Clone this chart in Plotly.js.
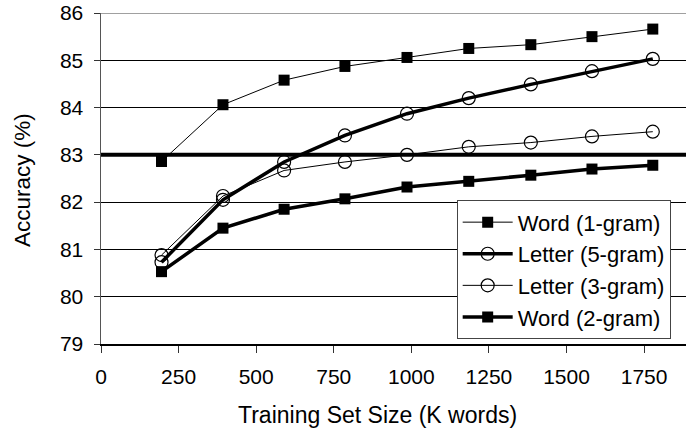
<!DOCTYPE html>
<html>
<head>
<meta charset="utf-8">
<script src="https://cdn.plot.ly/plotly-3.0.1.min.js"></script>
<style>html,body{margin:0;padding:0;background:#fff;}#chart{width:686px;height:430px;}</style>
</head>
<body>
<div id="chart"></div>
<script>
const trainingSize = [195, 393, 590, 786, 986, 1185, 1385, 1582, 1778];
const word1gram   = [82.86, 84.06, 84.58, 84.87, 85.06, 85.25, 85.33, 85.50, 85.66];
const letter5gram = [80.73, 82.05, 82.85, 83.41, 83.87, 84.20, 84.49, 84.77, 85.03];
const letter3gram = [80.88, 82.13, 82.67, 82.85, 83.00, 83.17, 83.26, 83.39, 83.49];
const word2gram   = [80.53, 81.45, 81.85, 82.07, 82.32, 82.44, 82.57, 82.70, 82.78];
const baselineAccuracy = 83;
const seriesNames = ['Word (1-gram)', 'Letter (5-gram)', 'Letter (3-gram)', 'Word (2-gram)'];
const xTicks = [0, 250, 500, 750, 1000, 1250, 1500, 1750];
const yTicks = [79, 80, 81, 82, 83, 84, 85, 86];
const xTitle = 'Training Set Size (K words)';
const yTitle = 'Accuracy (%)';

const FONT = 'Arial, "Liberation Sans", sans-serif';
const sq = {symbol: 'square', size: 11, color: '#000'};
const circ = {symbol: 'circle-open', size: 13, color: '#000', line: {width: 1.2, color: '#000'}};

const traces = [
  {x: trainingSize, y: word1gram, name: seriesNames[0], mode: 'lines+markers',
   line: {color: '#000', width: 1}, marker: sq},
  {x: trainingSize, y: letter5gram, name: seriesNames[1], mode: 'lines+markers',
   line: {color: '#000', width: 3.5}, marker: circ},
  {x: trainingSize, y: letter3gram, name: seriesNames[2], mode: 'lines+markers',
   line: {color: '#000', width: 1}, marker: circ},
  {x: trainingSize, y: word2gram, name: seriesNames[3], mode: 'lines+markers',
   line: {color: '#000', width: 3.5}, marker: sq}
];

const layout = {
  width: 686, height: 430,
  margin: {l: 101, r: 0, t: 13, b: 86},
  paper_bgcolor: '#fff', plot_bgcolor: '#fff',
  font: {family: FONT, color: '#000', size: 21},
  showlegend: true,
  legend: {x: 0.608, y: 0.434, xanchor: 'left', yanchor: 'top',
    bgcolor: '#fff', bordercolor: '#444', borderwidth: 1,
    font: {family: FONT, size: 22, color: '#000'}, itemwidth: 50, tracegroupgap: 0},
  xaxis: {
    range: [0, 1885], tickvals: xTicks, ticktext: xTicks.map(String),
    ticks: 'outside', ticklen: 7, tickcolor: '#333', tickwidth: 1, ticklabelstandoff: 6,
    showgrid: false, zeroline: false,
    showline: true, linecolor: '#000', linewidth: 1.5,
    tickfont: {family: FONT, size: 21, color: '#000'}
  },
  yaxis: {
    range: [79, 86], tickvals: yTicks, ticktext: yTicks.map(String),
    ticks: 'outside', ticklen: 6, tickcolor: '#333', tickwidth: 1, ticklabelstandoff: 6,
    showgrid: true, gridcolor: '#000', gridwidth: 1, zeroline: false,
    showline: true, linecolor: '#555', linewidth: 1.5,
    tickfont: {family: FONT, size: 21, color: '#000'}
  },
  annotations: [
    {text: xTitle, xref: 'paper', yref: 'paper', x: 0.4718, y: -0.2145,
     xanchor: 'center', yanchor: 'middle', showarrow: false,
     font: {family: FONT, size: 23, color: '#000'}},
    {text: yTitle, xref: 'paper', yref: 'paper', x: -0.1333, y: 0.4955, textangle: -90,
     xanchor: 'center', yanchor: 'middle', showarrow: false,
     font: {family: FONT, size: 22.5, color: '#000'}}
  ],
  shapes: [
    {type: 'line', xref: 'paper', x0: 0, x1: 1, yref: 'y', y0: 86, y1: 86,
     line: {color: '#808080', width: 1.5}, layer: 'above'},
    {type: 'line', xref: 'paper', x0: 0, x1: 1, yref: 'y', y0: baselineAccuracy, y1: baselineAccuracy,
     line: {color: '#000', width: 4}, layer: 'below'}
  ]
};

Plotly.newPlot('chart', traces, layout, {displayModeBar: false, staticPlot: true});
</script>
</body>
</html>
